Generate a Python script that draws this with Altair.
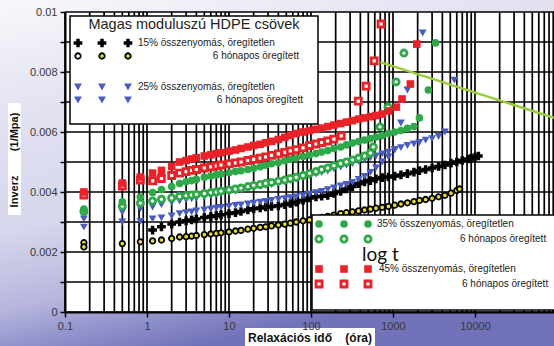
import altair as alt
import pandas as pd

# ---------------- data ----------------
# 15% compression, unaged (black +)
t15u = [1.17, 1.5, 2, 2.5, 3, 3.5, 4, 5, 6, 7, 8, 10, 12, 14, 17, 20, 24, 28, 33, 40, 48, 56, 66, 80, 96,
        115, 135, 160, 190, 230, 270, 320, 380, 450, 530, 620, 740, 880, 1050, 1250, 1500, 1800, 2100,
        2500, 3000, 3600, 4300, 5100, 6000, 7000, 8300, 9000, 10000, 11000]
v15u = [0.00273, 0.00284, 0.00293, 0.003, 0.00304, 0.00307, 0.0031, 0.00315, 0.00318, 0.00321, 0.00324,
        0.00328, 0.00331, 0.00335, 0.0034, 0.00344, 0.00347, 0.0035, 0.00352, 0.00354, 0.00358, 0.00362,
        0.00366, 0.00372, 0.0038, 0.00384, 0.00386, 0.00389, 0.00395, 0.00402, 0.0041, 0.00418, 0.00428,
        0.00434, 0.00438, 0.00444, 0.00448, 0.0045, 0.00453, 0.00457, 0.00461, 0.00466, 0.00471, 0.00475,
        0.0048, 0.00485, 0.0049, 0.00496, 0.005, 0.00505, 0.0051, 0.00513, 0.00516, 0.0052]

# 15% compression, 6 months aged (black ring, yellow centre)
t15a = [0.17, 0.17, 0.5, 0.83, 1.17, 1.5, 2, 2.5, 3, 3.5, 4, 5, 6, 7, 8, 10, 12, 14, 17, 20, 24, 28, 33, 40,
        48, 56, 66, 80, 96, 115, 135, 160, 190, 230, 270, 320, 380, 450, 530, 620, 740, 880, 1050, 1250,
        1500, 1800, 2100, 2500, 3000, 3600, 4300, 5100, 6000, 6500]
v15a = [0.00231, 0.00217, 0.00228, 0.00234, 0.00237, 0.0024, 0.00245, 0.0025, 0.00251, 0.00253, 0.00255,
        0.00258, 0.0026, 0.00262, 0.00264, 0.00267, 0.0027, 0.00272, 0.00276, 0.00279, 0.00282, 0.00284,
        0.00287, 0.0029, 0.00293, 0.00296, 0.003, 0.00304, 0.00307, 0.00311, 0.00315, 0.00319, 0.00323,
        0.00328, 0.00331, 0.00334, 0.00337, 0.0034, 0.00343, 0.00346, 0.00349, 0.00352, 0.00356, 0.0036,
        0.00364, 0.00368, 0.00372, 0.00375, 0.00379, 0.00384, 0.00389, 0.00396, 0.00405, 0.0041]

# 25% compression, unaged (blue triangles)
t25u = [0.17, 0.5, 0.83, 1.17, 1.5, 2, 2.5, 3, 3.5, 4, 5, 6, 7, 8, 10, 12, 14, 17, 20, 24, 28, 33, 40, 48, 56,
        66, 80, 96, 115, 135, 160, 190, 230, 270, 320, 380, 450, 530, 620, 740, 880, 1050, 1250, 1500, 1800,
        2100, 2500, 3000, 3600, 4300, 5600]
v25u = [0.0031, 0.00333, 0.00345, 0.0035, 0.00358, 0.00365, 0.0037, 0.00374, 0.00377, 0.0038, 0.00384,
        0.00388, 0.00391, 0.00394, 0.00398, 0.00402, 0.00406, 0.0041, 0.00414, 0.00418, 0.00421, 0.00425,
        0.00429, 0.00434, 0.00438, 0.00443, 0.00448, 0.00455, 0.0046, 0.00465, 0.0047, 0.00477, 0.00483,
        0.00489, 0.00495, 0.00502, 0.00508, 0.00514, 0.0052, 0.00527, 0.00533, 0.00542, 0.00548, 0.00555,
        0.0056, 0.00565, 0.00573, 0.00578, 0.00585, 0.006, 0.00773]

# 25% compression, 6 months aged (blue triangles)
t25a = [0.17, 0.5, 0.83, 1.17, 1.5, 2, 2.5, 3, 3.5, 4, 5, 6, 7, 8, 10, 12, 14, 17, 20, 24, 28, 33, 40, 48, 56,
        66, 80, 96, 115, 135, 160, 190, 230, 270, 320, 380, 450, 530, 620, 740, 880, 1050, 1250, 1500, 2300]
v25a = [0.00283, 0.003, 0.00302, 0.0031, 0.00314, 0.0032, 0.00328, 0.00331, 0.00334, 0.00337, 0.0034,
        0.00343, 0.00346, 0.00349, 0.00352, 0.00355, 0.00357, 0.0036, 0.00363, 0.00366, 0.00369, 0.00372,
        0.00375, 0.00378, 0.00381, 0.00384, 0.00388, 0.00393, 0.00398, 0.00402, 0.00408, 0.00414, 0.0042,
        0.00425, 0.00432, 0.00442, 0.00452, 0.00465, 0.0048, 0.005, 0.00517, 0.0054, 0.0063, 0.0074, 0.0093]

# 35% compression, unaged (green dots)
t35u = [0.17, 0.5, 0.83, 1.17, 1.5, 2, 2.5, 3, 3.5, 4, 5, 6, 7, 8, 10, 12, 14, 17, 20, 24, 28, 33, 40, 48, 56,
        66, 80, 96, 115, 135, 160, 190, 230, 270, 320, 380, 450, 530, 620, 740, 880, 1050, 1250, 1500, 1800,
        2100, 2700, 3300]
v35u = [0.00343, 0.00367, 0.00383, 0.00398, 0.00408, 0.00418, 0.00428, 0.00434, 0.00438, 0.00442, 0.00449,
        0.00453, 0.00457, 0.0046, 0.00464, 0.00468, 0.00471, 0.00475, 0.00479, 0.00484, 0.00489, 0.00494,
        0.00498, 0.00504, 0.00509, 0.00513, 0.00518, 0.00523, 0.00528, 0.00533, 0.00538, 0.00545, 0.0055,
        0.00557, 0.00563, 0.00568, 0.00573, 0.00578, 0.00583, 0.00588, 0.00595, 0.006, 0.00605, 0.00612,
        0.00618, 0.00647, 0.0074, 0.00897]

# 35% compression, 6 months aged (green rings)
t35a = [0.17, 0.5, 0.83, 1.17, 1.5, 2, 2.5, 3, 3.5, 4, 5, 6, 7, 8, 10, 12, 14, 17, 20, 24, 28, 33, 40, 48, 56,
        66, 80, 96, 115, 135, 160, 190, 230, 270, 320, 380, 450, 530, 575, 695, 870, 1090, 1360]
v35a = [0.00335, 0.00353, 0.00363, 0.0037, 0.00376, 0.0038, 0.00385, 0.00388, 0.0039, 0.00392, 0.00395,
        0.00398, 0.004, 0.00403, 0.00407, 0.0041, 0.00413, 0.00418, 0.00422, 0.00425, 0.00429, 0.00432,
        0.00436, 0.0044, 0.00445, 0.00449, 0.00455, 0.00462, 0.00468, 0.00475, 0.0048, 0.00488, 0.00495,
        0.005, 0.00507, 0.00513, 0.0052, 0.0053, 0.0055, 0.00617, 0.00683, 0.00767, 0.00863]

# 45% compression, unaged (red squares)
t45u = [0.17, 0.5, 0.83, 1.17, 1.5, 2, 2.5, 3, 3.5, 4, 5, 6, 7, 8, 10, 12, 14, 17, 20, 24, 28, 33, 40, 48, 56,
        66, 80, 96, 115, 135, 160, 190, 230, 270, 320, 380, 450, 530, 620, 740, 890, 1100, 1290, 1630, 1950]
v45u = [0.004, 0.0043, 0.0045, 0.00463, 0.00472, 0.00485, 0.005, 0.00505, 0.0051, 0.00514, 0.0052, 0.00524,
        0.00528, 0.00531, 0.00536, 0.0054, 0.00545, 0.0055, 0.00555, 0.00559, 0.00564, 0.00569, 0.00575,
        0.00582, 0.00589, 0.00595, 0.006, 0.00605, 0.00609, 0.00613, 0.00618, 0.00623, 0.00628, 0.00633,
        0.00638, 0.00643, 0.00647, 0.00651, 0.00655, 0.0066, 0.0067, 0.00683, 0.0071, 0.0076, 0.00893]

# 45% compression, 6 months aged (red hollow squares)
t45a = [0.17, 0.5, 0.83, 1.17, 1.5, 2, 2.5, 3, 3.5, 4, 5, 6, 7, 8, 10, 12, 14, 17, 20, 24, 28, 33, 40, 48, 56,
        66, 80, 96, 115, 135, 160, 190, 234, 377, 471, 589, 716]
v45a = [0.0039, 0.0042, 0.0044, 0.00437, 0.00445, 0.00455, 0.00463, 0.00468, 0.00472, 0.00475, 0.0048,
        0.00484, 0.00487, 0.0049, 0.00494, 0.00497, 0.005, 0.00505, 0.00509, 0.00513, 0.00517, 0.00522,
        0.00527, 0.00532, 0.00537, 0.00541, 0.00547, 0.00555, 0.0056, 0.00565, 0.0057, 0.00576, 0.00587,
        0.00703, 0.00753, 0.00837, 0.0096]

# log t guide line
t_line = [700, 92000]
v_line = [0.00833, 0.00647]

# grid and tick values
x_ticks = [0.1, 1, 10, 100, 1000, 10000]
x_grid = [k * 10.0 ** d for d in range(-1, 5) for k in range(1, 10)]
y_ticks = [i / 1000 for i in range(0, 11)]

NB = "\u00a0"
title_text = "Magas moduluszú HDPE csövek"
leg_text = ["15% összenyomás, öregítetlen", "6 hónapos öregített",
            "25% összenyomás, öregítetlen", "6 hónapos öregített",
            "35% összenyomás, öregítetlen", "6 hónapos öregített",
            "45% összenyomás, öregítetlen", "6 hónapos öregített"]
log_label = "log t"
x_title = "Relaxációs idő" + NB * 4 + "(óra)"
y_title = "Inverz" + NB * 8 + "(1/Mpa)"

# ---------------- styling ----------------
W, H = 489, 300
RED = "#ea2228"
GREEN = "#2fa84a"
BLUE = "#4a5cc2"
YEL = "#e8dc2c"
LIME = "#9ccb3a"
FONT = "Liberation Sans"

xs = alt.Scale(type="log", domain=[0.1, 92000], nice=False)
ys = alt.Scale(domain=[0, 0.01], nice=False, zero=False)

x_axis = alt.Axis(values=x_ticks, grid=False, title=None, format="~g", labelFont=FONT, labelFontSize=11,
                  labelColor="#383838", tickColor="black", tickWidth=1.5, tickSize=5, domainColor="black",
                  domainWidth=2, labelPadding=3, zindex=1, labelFlush=False)
y_axis = alt.Axis(values=y_ticks, grid=False, title=None, labelFont=FONT, labelFontSize=11,
                  labelColor="#383838", tickColor="black", tickWidth=1.5, tickSize=5, domainColor="black",
                  domainWidth=2, labelPadding=3, zindex=1,
                  labelExpr="round(datum.value*1000) % 2 == 0 ? format(datum.value, '~g') : ''")

one = pd.DataFrame({"a": [0]})

bg = alt.Chart(one).mark_rect(
    color=alt.LinearGradient(gradient="linear", x1=0, y1=0, x2=0.35, y2=1,
                             stops=[alt.GradientStop(color="#f8f8fb", offset=0),
                                    alt.GradientStop(color="#e2e2f2", offset=0.3),
                                    alt.GradientStop(color="#d6d6ec", offset=0.6),
                                    alt.GradientStop(color="#b6b6de", offset=0.8),
                                    alt.GradientStop(color="#9292cc", offset=0.9),
                                    alt.GradientStop(color="#7272ba", offset=1)])
).encode(x=alt.value(-65), x2=alt.value(W), y=alt.value(-12), y2=alt.value(H + 34))

plotbg = alt.Chart(one).mark_rect(color="white").encode(
    x=alt.value(0), x2=alt.value(W), y=alt.value(0), y2=alt.value(H))

xgrid = alt.Chart(pd.DataFrame({"g": x_grid})).mark_rule(color="black", strokeWidth=1.7).encode(
    x=alt.X("g:Q", scale=xs, axis=x_axis))
ygrid = alt.Chart(pd.DataFrame({"g": y_ticks})).mark_rule(color="black", strokeWidth=1.7).encode(
    y=alt.Y("g:Q", scale=ys, axis=y_axis))


def pts(t, v, **kw):
    return alt.Chart(pd.DataFrame({"t": t, "v": v})).mark_point(opacity=1, **kw).encode(
        x=alt.X("t:Q", scale=xs, axis=x_axis), y=alt.Y("v:Q", scale=ys, axis=y_axis))


s15a = pts(t15a, v15a, shape="circle", filled=True, fill=YEL, stroke="black", strokeWidth=1.8, size=30)
s15u = pts(t15u, v15u, shape="cross", filled=True, color="black", size=75)
s25a = pts(t25a, v25a, shape="triangle-down", filled=True, color=BLUE, size=62)
s25u = pts(t25u, v25u, shape="triangle-down", filled=True, color=BLUE, size=62)
s35a = pts(t35a, v35a, shape="circle", filled=True, fill="white", stroke=GREEN, strokeWidth=2.8, size=38)
s35u = pts(t35u, v35u, shape="circle", filled=True, color=GREEN, size=58)
s45a = pts(t45a, v45a, shape="square", filled=True, fill="white", stroke=RED, strokeWidth=2.8, size=36)
s45u = pts(t45u, v45u, shape="square", filled=True, color=RED, size=58)

guide = alt.Chart(pd.DataFrame({"t": t_line, "v": v_line})).mark_line(color=LIME, strokeWidth=2.5).encode(
    x=alt.X("t:Q", scale=xs, axis=x_axis), y=alt.Y("v:Q", scale=ys, axis=y_axis))


def box(x1, x2, y1, y2, fill="white", stroke="black", sw=1.5):
    return alt.Chart(one).mark_rect(fill=fill, stroke=stroke, strokeWidth=sw).encode(
        x=alt.value(x1), x2=alt.value(x2), y=alt.value(y1), y2=alt.value(y2))


def txt(s, x, y, size=10, align="left", weight="normal", angle=0, font=FONT, color="#222222"):
    return alt.Chart(one).mark_text(text=s, align=align, baseline="middle", fontSize=size, font=font,
                                    fontWeight=weight, angle=angle, color=color).encode(
        x=alt.value(x), y=alt.value(y))


def marks(xs_, y, **kw):
    return alt.Chart(pd.DataFrame({"px": xs_})).mark_point(opacity=1, **kw).encode(
        x=alt.X("px:Q", scale=None), y=alt.value(y))


lx1 = [13, 37, 63]
lx2 = [254, 279, 303]
legend = [
    box(5, 253, 4, 112),
    txt(title_text, 129, 13, size=14.5, align="center"),
    marks(lx1, 31, shape="cross", filled=True, color="black", size=75),
    txt(leg_text[0], 73, 31),
    marks(lx1[:1], 44, shape="circle", filled=True, fill="white", stroke="black", strokeWidth=1.8, size=30),
    marks(lx1[1:], 44, shape="circle", filled=True, fill=YEL, stroke="black", strokeWidth=1.8, size=30),
    txt(leg_text[1], 234, 44, align="right"),
    marks(lx1, 75, shape="triangle-down", filled=True, color=BLUE, size=62),
    txt(leg_text[2], 73, 75),
    marks(lx1, 88, shape="triangle-down", filled=True, color=BLUE, size=62),
    txt(leg_text[3], 238, 88, align="right"),
    box(247, 520, 203, 298),
    marks(lx2, 212, shape="circle", filled=True, color=GREEN, size=58),
    txt(leg_text[4], 312, 212),
    marks(lx2, 227, shape="circle", filled=True, fill="white", stroke=GREEN, strokeWidth=2.8, size=38),
    txt(leg_text[5], 395, 227),
    txt(log_label, 297, 243, size=19, font="Lato", color="#111111"),
    marks(lx2, 257, shape="square", filled=True, color=RED, size=58),
    txt(leg_text[6], 314, 257),
    marks(lx2, 272, shape="square", filled=True, fill="white", stroke=RED, strokeWidth=2.8, size=36),
    txt(leg_text[7], 397, 272),
]

titles = [
    box(-57, -44, 91, 203, stroke="white", sw=0),
    txt(y_title, -50, 148, size=11, align="center", weight="bold", angle=270, color="#111111"),
    box(180, 310, 316, 334, stroke="white", sw=0),
    txt(x_title, 245, 326, size=12, align="center", weight="bold", color="#111111"),
]

chart = alt.layer(bg, plotbg, xgrid, ygrid, s15a, s15u, s25a, s25u, s35a, s35u, s45a, s45u, guide,
                  *legend, *titles).properties(
    width=W, height=H,
    padding={"left": 65, "top": 12, "right": 0, "bottom": 34},
    autosize=alt.AutoSizeParams(type="none"),
    background="#e4e4f2",
).configure_view(stroke=None, fill=None)

chart.save("out.html", embed_options={"renderer": "svg", "actions": False})
